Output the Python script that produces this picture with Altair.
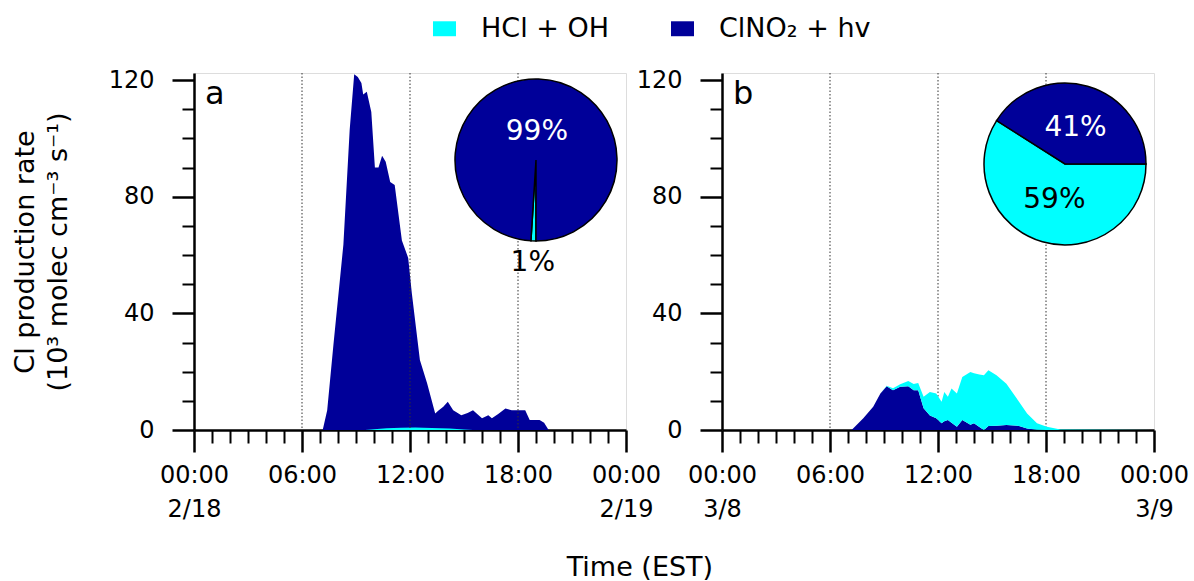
import math
import altair as alt
import pandas as pd

FONT = "DejaVu Sans"
SERIES = ["HCl + OH", "ClNO₂ + hv"]
COLORS = ["#00FFFF", "#000099"]

# ---- Panel a (2/18) ----
hours_a = [0, 7.15, 7.4, 7.75, 8.3, 8.65, 8.9, 9.1, 9.3, 9.4, 9.6, 9.85, 10.05, 10.25, 10.45,
           10.65, 10.9, 11.15, 11.55, 11.9, 12.1, 12.55, 12.95, 13.4, 13.6, 13.85, 14.1, 14.4,
           14.85, 15.2, 15.5, 16.0, 16.35, 16.55, 16.9, 17.3, 17.65, 18.0, 18.4, 18.65, 19.2,
           19.45, 19.7, 24]
clno2_a = [0, 0, 6.8, 29.5, 63.6, 103, 122, 121, 119, 115, 116, 109, 90, 90, 94,
           92, 85, 84, 65, 59, 47, 24, 16, 5.7, 6.8, 8, 9.7, 6.8,
           5.1, 5.8, 6.8, 4.0, 5.1, 4.0, 5.5, 7.4, 6.8, 6.8, 6.8, 3.4, 3.4,
           2.5, 0, 0]
hours_a_hcl = [0, 9.5, 10.0, 10.7, 11.5, 12.3, 13.2, 14.2, 15.0, 15.5, 24]
hcl_a = [0, 0, 0.3, 0.6, 0.8, 0.9, 0.7, 0.5, 0.2, 0, 0]

# ---- Panel b (3/8) ----
hours_b = [0, 7.2, 7.85, 8.4, 8.8, 9.15, 9.5, 9.9, 10.35, 10.65, 10.9, 11.2, 11.55, 11.9,
           12.2, 12.35, 12.55, 12.75, 13.05, 13.35, 13.8, 14.0, 14.3, 14.55, 14.8, 15.25,
           15.8, 16.5, 16.95, 17.5, 18.05, 18.8, 24]
clno2_b = [0, 0, 4.0, 8.0, 12.5, 15.0, 13.6, 14.8, 15.0, 13.6, 13.6, 7.5, 5.0, 4.0,
           2.3, 3.0, 3.4, 2.5, 1.1, 3.4, 1.8, 2.3, 1.0, 0, 1.4, 1.5,
           1.7, 1.4, 0.5, 0.1, 0, 0, 0]
hcl_b = [0, 0, 0, 0, 0, 0.2, 0.7, 0.9, 1.8, 2.2, 2.5, 3.9, 8.0, 8.5,
         7.4, 10.0, 8.0, 11.7, 11.4, 14.8, 18.1, 17.2, 18.0, 18.8, 19.1, 17.3,
         14.2, 8.3, 5.2, 2.2, 1.1, 0.2, 0]

# pie fractions (%), order = SERIES
pie_a = [1, 99]
pie_b = [59, 41]

hour_labels = ["00:00", "06:00", "12:00", "18:00", "00:00"]
dates_a = ["2/18", "2/19"]
dates_b = ["3/8", "3/9"]
panel_letters = ["a", "b"]
dotted_hours = [6, 12, 18]

Y_MAX = 122.4
W, H = 432, 357

color_scale = alt.Scale(domain=SERIES, range=COLORS)
legend = alt.Legend(
    title=None, orient="none", legendX=237, legendY=-58, direction="horizontal",
    symbolType="M-1,-0.65H1V0.65H-1Z", symbolSize=529, symbolStrokeWidth=0,
    symbolOpacity=1, labelFont=FONT, labelFontSize=27, labelColor="black",
    labelOffset=23, columnPadding=60, padding=0,
)


def x_axis(dates):
    parts = []
    for i, h in enumerate([0, 6, 12, 18, 24]):
        if h == 0:
            lab = f"['{hour_labels[i]}', '{dates[0]}']"
        elif h == 24:
            lab = f"['{hour_labels[i]}', '{dates[1]}']"
        else:
            lab = f"'{hour_labels[i]}'"
        parts.append(f"datum.value == {h} ? {lab}")
    expr = " : ".join(parts) + " : ''"
    return alt.Axis(
        values=list(range(25)), labelExpr=expr, title=None, grid=False,
        labelFont=FONT, labelFontSize=24, labelColor="black", labelLineHeight=34,
        labelPadding=11, labelOverlap=False, labelFlush=False,
        tickSize={"condition": {"test": "datum.value % 6 === 0", "value": 22}, "value": 13},
        tickWidth={"condition": {"test": "datum.value % 6 === 0", "value": 2.5}, "value": 2},
        tickColor="black", domainColor="black", domainWidth=2.5,
    )


def y_axis(title):
    kw = dict(
        values=list(range(0, 121, 10)), labelExpr="datum.value % 40 === 0 ? datum.label : ''",
        grid=False, labelFont=FONT, labelFontSize=24, labelColor="black", labelPadding=18,
        labelOverlap=False, labelFlush=False,
        tickSize={"condition": {"test": "datum.value % 40 === 0", "value": 22}, "value": 12},
        tickWidth={"condition": {"test": "datum.value % 40 === 0", "value": 2.5}, "value": 2},
        tickColor="black", domainColor="black", domainWidth=2.5,
    )
    if title:
        kw.update(title=["Cl production rate", "(10³ molec cm⁻³ s⁻¹)"], titleFont=FONT,
                  titleFontSize=27, titleFontWeight="normal", titleColor="black",
                  titleLineHeight=33, titlePadding=36)
    else:
        kw.update(title=None)
    return alt.Axis(**kw)


def xenc(field, dates):
    return alt.X(f"{field}:Q", scale=alt.Scale(domain=[0, 24], nice=False), axis=x_axis(dates))


def yenc(field, title, stack=None):
    return alt.Y(f"{field}:Q", scale=alt.Scale(domain=[0, Y_MAX], nice=False),
                 axis=y_axis(title), stack=stack)


def rules(dates):
    df = pd.DataFrame({"h": dotted_hours})
    return alt.Chart(df).mark_rule(color="#333333", strokeWidth=1, strokeDash=[1.5, 2]).encode(
        x=xenc("h", dates))


def pie(values, start, cx, cy, label_radii):
    df = pd.DataFrame({"source": SERIES, "pct": values, "ord": [0, 1],
                       "label": [f"{v}%" for v in values]})
    theta = alt.Theta("pct:Q", stack=True,
                      scale=alt.Scale(range=[start, start + 2 * math.pi]))
    base = alt.Chart(df).encode(theta=theta, order=alt.Order("ord:Q"),
                                x=alt.value(cx), y=alt.value(cy))
    arc = base.mark_arc(outerRadius=81, stroke="black", strokeWidth=1.5).encode(
        color=alt.Color("source:N", scale=color_scale, legend=legend))
    layers = [arc]
    for src, r in label_radii:
        layers.append(base.mark_text(radius=r, font=FONT, fontSize=28).encode(
            text=alt.condition(f"datum.source == '{src}'", "label:N", alt.value("")),
            color=alt.condition(f"datum.source == '{SERIES[0]}'", alt.value("black"),
                                alt.value("white")),
        ))
    return layers


def letter(ch):
    df = pd.DataFrame({"t": [ch]})
    return alt.Chart(df).mark_text(align="left", baseline="alphabetic", font=FONT,
                                   fontSize=32, color="black").encode(
        text="t:N", x=alt.value(11), y=alt.value(31))


# ---- Panel a ----
df_a_dark = pd.DataFrame({"hour": hours_a, "value": clno2_a, "source": SERIES[1]})
df_a_hcl = pd.DataFrame({"hour": hours_a_hcl, "value": hcl_a, "source": SERIES[0]})

area_a_dark = alt.Chart(df_a_dark).mark_area(opacity=1, clip=True).encode(
    x=xenc("hour", dates_a), y=yenc("value", True),
    color=alt.Color("source:N", scale=color_scale, legend=legend))
area_a_hcl = alt.Chart(df_a_hcl).mark_area(opacity=1, clip=True).encode(
    x=xenc("hour", dates_a), y=yenc("value", True),
    color=alt.Color("source:N", scale=color_scale, legend=legend))

panel_a = alt.layer(
    area_a_dark, area_a_hcl, rules(dates_a),
    *pie(pie_a, math.pi, 342, 87, [(SERIES[1], 28), (SERIES[0], 103)]),
    letter(panel_letters[0]),
).properties(width=W, height=H)

# ---- Panel b ----
ord_map = {SERIES[1]: 0, SERIES[0]: 1}
df_b = pd.concat([
    pd.DataFrame({"hour": hours_b, "value": clno2_b, "source": SERIES[1]}),
    pd.DataFrame({"hour": hours_b, "value": hcl_b, "source": SERIES[0]}),
], ignore_index=True)
df_b["ord"] = df_b["source"].map(ord_map)

area_b = alt.Chart(df_b).mark_area(opacity=1, clip=True).encode(
    x=xenc("hour", dates_b), y=yenc("value", False, stack="zero"),
    color=alt.Color("source:N", scale=color_scale, legend=legend),
    order=alt.Order("ord:Q"))

panel_b = alt.layer(
    rules(dates_b), area_b,
    *pie(pie_b, math.pi / 2, 343, 91, [(SERIES[1], 38), (SERIES[0], 38)]),
    letter(panel_letters[1]),
).properties(width=W, height=H)

chart = alt.hconcat(panel_a, panel_b, spacing=96, bounds="flush").resolve_scale(
    color="shared", theta="independent"
).properties(
    title=alt.TitleParams("Time (EST)", orient="bottom", anchor="middle", font=FONT,
                          fontSize=27, fontWeight="normal", color="black", offset=33, dx=40),
    padding={"left": 10, "top": 15, "right": 2, "bottom": 0},
).configure_view(stroke="black", strokeWidth=2.5).configure(background="white")

chart.save("out.html", embed_options={"renderer": "svg", "actions": False})
